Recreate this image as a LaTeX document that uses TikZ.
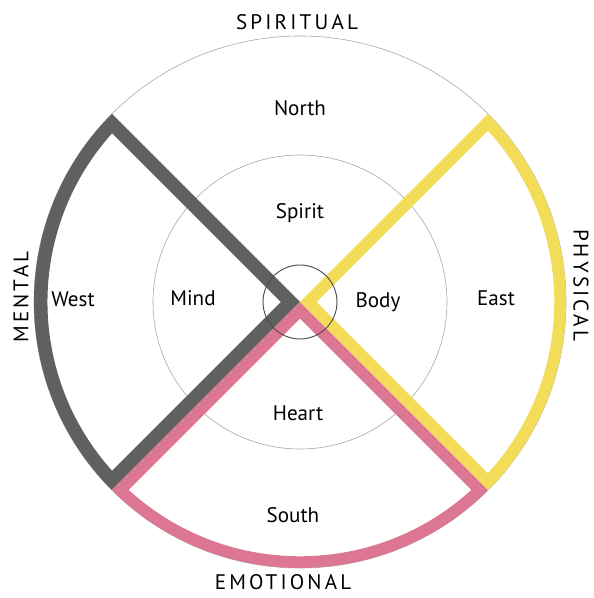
\documentclass[tikz,border=0pt]{standalone}
\usepackage{fontspec}
\setmainfont{PT Sans}

\definecolor{pencilblack}{RGB}{96,96,96}
\definecolor{pencilyellow}{RGB}{243,221,88}
\definecolor{pencilpink}{RGB}{220,118,146}

\begin{document}
\begin{tikzpicture}[
    x=0.03cm, y=0.03cm,
    word/.style={font=\fontsize{18}{21}\selectfont, inner sep=0pt},
    quarter/.style={font=\fontsize{18}{21}\selectfont\addfontfeature{LetterSpace=15}, inner sep=0pt},
    ring/.style={draw=gray!70, line width=0.5pt}
  ]
  \useasboundingbox (-300,-296) rectangle (293,302);
  \draw[ring] (0,0) circle[radius=266];
  \draw[ring] (0,0) circle[radius=147];
  \begin{scope}
    \clip (0,0) -- (135:266) arc[start angle=135, end angle=225, radius=266] -- cycle;
    \draw[pencilblack, line width=23pt] (0,0) -- (135:266) arc[start angle=135, end angle=225, radius=266] -- cycle;
  \end{scope}
  \begin{scope}
    \clip (0,0) -- (225:266) arc[start angle=225, end angle=315, radius=266] -- cycle;
    \draw[pencilpink, line width=20pt] (0,0) -- (225:266) arc[start angle=225, end angle=315, radius=266] -- cycle;
  \end{scope}
  \begin{scope}
    \clip (0,0) -- (-45:266) arc[start angle=-45, end angle=45, radius=266] -- cycle;
    \draw[pencilyellow, line width=20pt] (0,0) -- (-45:266) arc[start angle=-45, end angle=45, radius=266] -- cycle;
  \end{scope}
  \draw[draw=black!70, line width=0.8pt] (0,0) circle[radius=37];

  \node[word] (north) at (0,194) {North};
  \node[word] (spirit) at (0,89) {Spirit};
  \node[word] (west) at (-227,3) {West};
  \node[word] (mind) at (-107,4) {Mind};
  \node[word] (body) at (78,0) {Body};
  \node[word] (east) at (196,4) {East};
  \node[word] (heart) at (-2,-111) {Heart};
  \node[word] (south) at (-7,-213) {South};

  \node[quarter] (spiritual) at (-3,280) {SPIRITUAL};
  \node[quarter] (emotional) at (-17,-280) {EMOTIONAL};
  \node[quarter, rotate=90] (mental) at (-279,5) {MENTAL};
  \node[quarter, rotate=-90] (physical) at (281,17) {PHYSICAL};
\end{tikzpicture}
\end{document}
